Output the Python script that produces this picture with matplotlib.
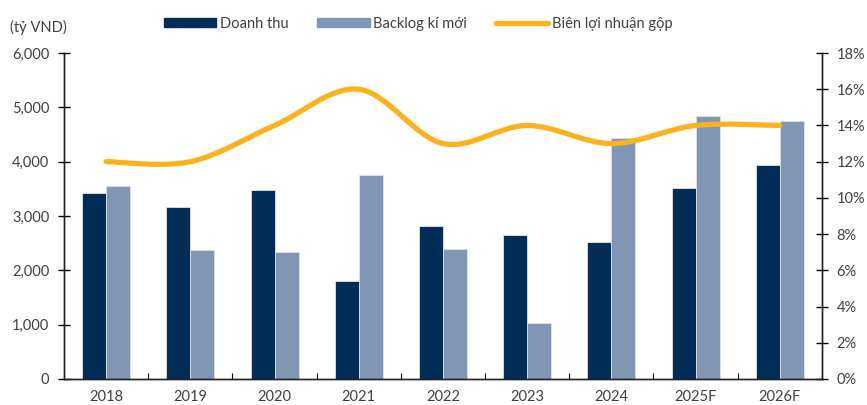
import numpy as np
import matplotlib
matplotlib.use('Agg')
import matplotlib.pyplot as plt
from matplotlib.path import Path
from matplotlib.patches import PathPatch, Patch
from matplotlib.lines import Line2D
from matplotlib.ticker import FuncFormatter, MultipleLocator, FixedLocator

plt.rcParams['font.family'] = ['Lato', 'DejaVu Sans']

years = ['2018', '2019', '2020', '2021', '2022', '2023', '2024', '2025F', '2026F']
doanh_thu = [3420, 3170, 3470, 1800, 2810, 2650, 2520, 3510, 3930]
backlog = [3560, 2370, 2330, 3750, 2400, 1030, 4440, 4840, 4740]
margin = [12, 12, 14, 16, 13, 14, 13, 14, 14]

navy = '#002D56'
steel = '#8096B4'
gold = '#FDB21C'
txt = '#404040'

fig = plt.figure(figsize=(8.67, 4.05), dpi=100)
ax = fig.add_axes([0.0738, 0.0642, 0.8742, 0.8049])
ax2 = ax.twinx()

x = np.arange(len(years))
w = 0.285
ax.bar(x - w / 2, doanh_thu, w, color=navy, edgecolor='#dde3ec', linewidth=0.6, zorder=2)
ax.bar(x + w / 2, backlog, w, color=steel, edgecolor='#dde3ec', linewidth=0.6, zorder=2)

ax.set_xlim(-0.5, len(years) - 0.5)
ax.set_ylim(0, 6000)
ax.yaxis.set_major_locator(MultipleLocator(1000))
ax.yaxis.set_major_formatter(FuncFormatter(lambda v, p: f'{int(v):,}'))
ax.set_xticks(x)
ax.set_xticklabels(years)
ax.xaxis.set_minor_locator(FixedLocator(np.arange(0.5, len(years) - 1, 1)))
ax.tick_params(axis='x', which='major', length=0, pad=8, labelsize=10.5, labelcolor=txt)
ax.tick_params(axis='x', which='minor', direction='in', length=4, width=0.8)
ax.tick_params(axis='y', direction='inout', length=9, width=1, pad=6, labelsize=10.5, labelcolor=txt)

# smooth line through the margin points (Catmull-Rom as cubic Bezier)
pts = list(zip(x.astype(float), margin))
verts = [pts[0]]
codes = [Path.MOVETO]
n = len(pts)
for i in range(n - 1):
    p0 = np.array(pts[max(i - 1, 0)])
    p1 = np.array(pts[i])
    p2 = np.array(pts[i + 1])
    p3 = np.array(pts[min(i + 2, n - 1)])
    c1 = p1 + (p2 - p0) / 6
    c2 = p2 - (p3 - p1) / 6
    verts += [tuple(c1), tuple(c2), tuple(p2)]
    codes += [Path.CURVE4] * 3
ax2.add_patch(PathPatch(Path(verts, codes), facecolor='none', edgecolor=gold,
                        linewidth=3.8, capstyle='round', zorder=3))
ax2.set_ylim(0, 18)
ax2.yaxis.set_major_locator(MultipleLocator(2))
ax2.yaxis.set_major_formatter(FuncFormatter(lambda v, p: f'{int(v)}%'))
ax2.tick_params(axis='y', direction='inout', length=9, width=1, pad=6, labelsize=10.5, labelcolor=txt)

for a in (ax, ax2):
    a.spines['top'].set_visible(False)
    for s in ('left', 'right', 'bottom'):
        a.spines[s].set_color('#222222')
        a.spines[s].set_linewidth(1)

fig.text(0.012, 0.933, '(tỷ VND)', fontsize=10.5, color=txt, va='center')

handles = [Patch(color=navy), Patch(color=steel),
           Line2D([], [], color=gold, linewidth=3.8, solid_capstyle='round')]
labels = ['Doanh thu', 'Backlog kí mới', 'Biên lợi nhuận gộp']
fig.legend(handles, labels, loc='center left', bbox_to_anchor=(0.174, 0.941), ncol=3,
           frameon=False, fontsize=10.5, handlelength=3.57, handleheight=0.62,
           handletextpad=0.25, columnspacing=2.0, labelcolor=txt, borderpad=0.4)

fig.savefig('out.png', dpi=100)
